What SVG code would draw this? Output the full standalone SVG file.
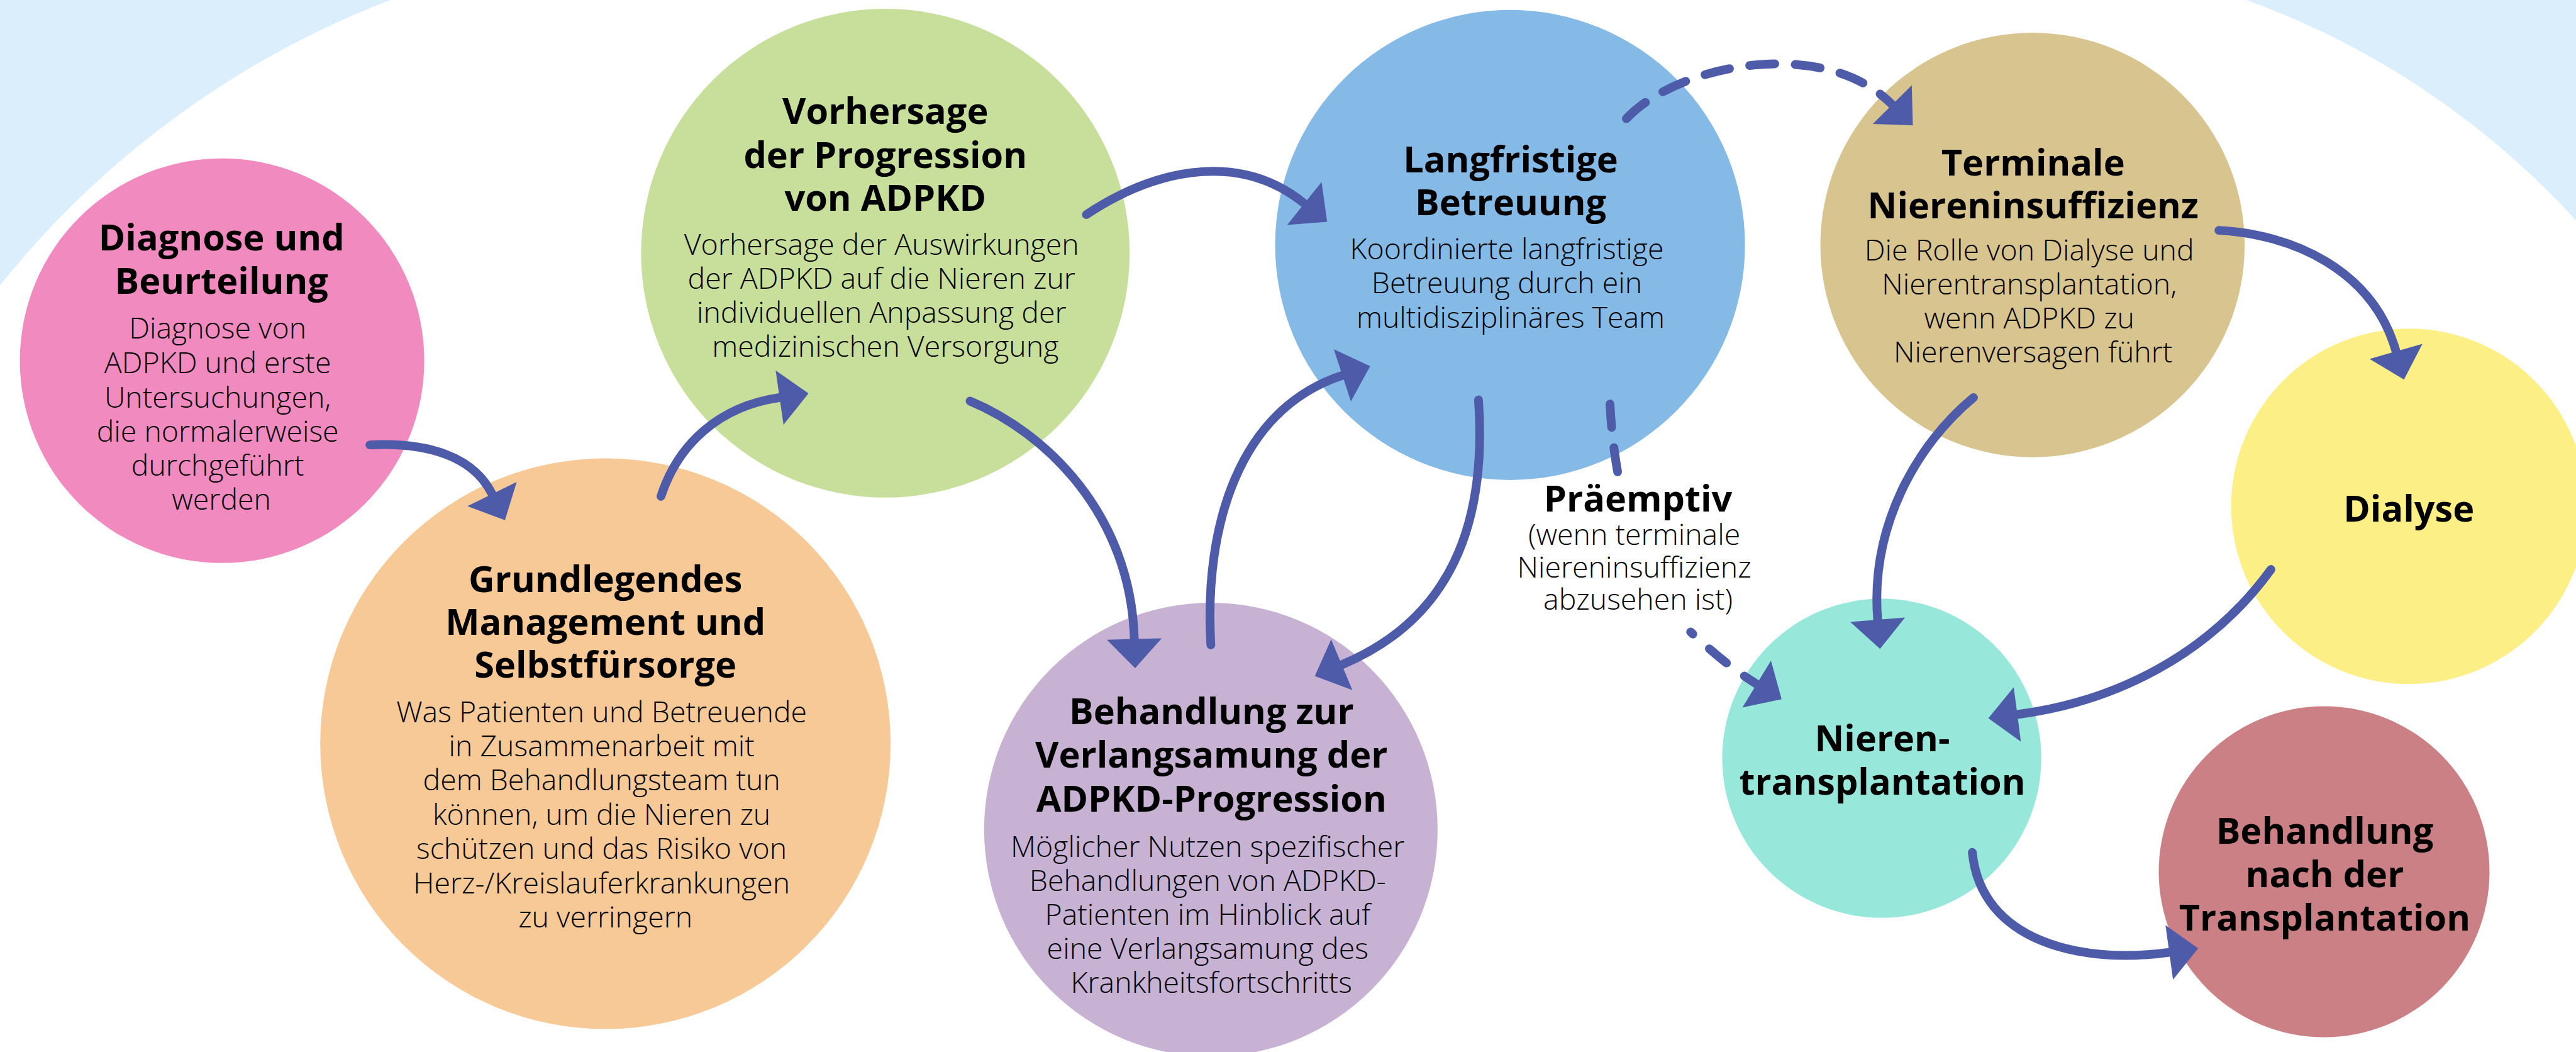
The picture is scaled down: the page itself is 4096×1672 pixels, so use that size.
<svg xmlns="http://www.w3.org/2000/svg" width="4096" height="1672" viewBox="0 0 4096 1672">
  <style>
    .title { font-family: "Open Sans", "Noto Sans", sans-serif; font-weight: 700; font-size: 62px; fill: #000; text-anchor: middle; }
    .body { font-family: "Open Sans", "Noto Sans", sans-serif; font-weight: 300; font-size: 50px; fill: #000; text-anchor: middle; }
    .link { fill: none; stroke: #4e5ba8; stroke-width: 15; stroke-linecap: round; }
    .dash { stroke-dasharray: 43 35; }
  </style>
  <defs>
    <marker id="head" markerUnits="userSpaceOnUse" markerWidth="52" markerHeight="96" refX="0" refY="47" orient="auto" overflow="visible">
      <path d="M0,0 L50,47 L0,94 Z" fill="#4e5ba8"/>
    </marker>
  </defs>
  <rect width="4096" height="1672" fill="#ffffff"/>
  <!-- drawn in 4408 x 1799 units, scaled to the window -->
  <g transform="scale(0.929219)">
    <!-- pale blue corners behind the main field -->
    <g id="backdrop" fill="#dbeefb">
      <path d="M0,0 H668 A1585,1585 0 0 0 0,488 Z"/>
      <path d="M3844,0 A1416,1416 0 0 1 4408,377 V0 Z"/>
    </g>

    <g id="diagnose">
      <circle cx="380" cy="617" r="346" fill="#f18bbf"/>
      <text class="title"><tspan x="379" y="428">Diagnose und</tspan><tspan x="379" y="503">Beurteilung</tspan></text>
      <text class="body">
        <tspan x="379" y="579">Diagnose von</tspan>
        <tspan x="379" y="638">ADPKD und erste</tspan>
        <tspan x="379" y="697">Untersuchungen,</tspan>
        <tspan x="379" y="755">die normalerweise</tspan>
        <tspan x="379" y="814">durchgeführt</tspan>
        <tspan x="379" y="872">werden</tspan>
      </text>
    </g>

    <g id="management">
      <circle cx="1036" cy="1272" r="488" fill="#f6c996"/>
      <text class="title"><tspan x="1036" y="1013">Grundlegendes</tspan><tspan x="1036" y="1086">Management und</tspan><tspan x="1036" y="1159">Selbstfürsorge</tspan></text>
      <text class="body">
        <tspan x="1036" y="1235">Was Patienten und Betreuende</tspan>
        <tspan x="1036" y="1294">in Zusammenarbeit mit</tspan>
        <tspan x="1036" y="1352">dem Behandlungsteam tun</tspan>
        <tspan x="1036" y="1411">können, um die Nieren zu</tspan>
        <tspan x="1036" y="1469">schützen und das Risiko von</tspan>
        <tspan x="1036" y="1528">Herz-/Kreislauferkrankungen</tspan>
        <tspan x="1036" y="1586">zu verringern</tspan>
      </text>
    </g>

    <g id="vorhersage">
      <circle cx="1515" cy="433" r="418" fill="#c7df9a"/>
      <text class="title"><tspan x="1515" y="212">Vorhersage</tspan><tspan x="1515" y="287">der Progression</tspan><tspan x="1515" y="361">von ADPKD</tspan></text>
      <text class="body">
        <tspan x="1515" y="436">Vorhersage der Auswirkungen</tspan>
        <tspan x="1515" y="494">der ADPKD auf die Nieren zur</tspan>
        <tspan x="1515" y="552">individuellen Anpassung der</tspan>
        <tspan x="1515" y="610">medizinischen Versorgung</tspan>
      </text>
    </g>

    <g id="verlangsamung">
      <circle cx="2072" cy="1419" r="388" fill="#c7b2d4"/>
      <text class="title"><tspan x="2073" y="1239">Behandlung zur</tspan><tspan x="2073" y="1313">Verlangsamung der</tspan><tspan x="2073" y="1388">ADPKD-Progression</tspan></text>
      <text class="body">
        <tspan x="2073" y="1466">Möglicher Nutzen spezifischer</tspan>
        <tspan x="2073" y="1524">Behandlungen von ADPKD-</tspan>
        <tspan x="2073" y="1582">Patienten im Hinblick auf</tspan>
        <tspan x="2073" y="1640">eine Verlangsamung des</tspan>
        <tspan x="2073" y="1698">Krankheitsfortschritts</tspan>
      </text>
    </g>

    <g id="betreuung">
      <circle cx="2584" cy="419" r="402" fill="#85bae7"/>
      <text class="title"><tspan x="2585" y="295">Langfristige</tspan><tspan x="2585" y="368">Betreuung</tspan></text>
      <text class="body">
        <tspan x="2585" y="443">Koordinierte langfristige</tspan>
        <tspan x="2585" y="502">Betreuung durch ein</tspan>
        <tspan x="2585" y="561">multidisziplinäres Team</tspan>
      </text>
    </g>

    <g id="terminal">
      <circle cx="3478" cy="419" r="363" fill="#d8c48f"/>
      <text class="title"><tspan x="3479" y="300">Terminale</tspan><tspan x="3479" y="373">Niereninsuffizienz</tspan></text>
      <text class="body">
        <tspan x="3479" y="445">Die Rolle von Dialyse und</tspan>
        <tspan x="3479" y="504">Nierentransplantation,</tspan>
        <tspan x="3479" y="562">wenn ADPKD zu</tspan>
        <tspan x="3479" y="620">Nierenversagen führt</tspan>
      </text>
    </g>

    <g id="dialyse">
      <circle cx="4122" cy="866" r="304" fill="#fbef86"/>
      <text class="title" x="4122" y="892">Dialyse</text>
    </g>

    <g id="transplantation">
      <circle cx="3220" cy="1297" r="273" fill="#97e8da"/>
      <text class="title"><tspan x="3221" y="1285">Nieren-</tspan><tspan x="3221" y="1359">transplantation</tspan></text>
    </g>

    <g id="nachsorge">
      <circle cx="3977" cy="1491" r="283" fill="#ca8084"/>
      <text class="title"><tspan x="3978" y="1443">Behandlung</tspan><tspan x="3978" y="1517">nach der</tspan><tspan x="3978" y="1592">Transplantation</tspan></text>
    </g>

    <g id="praeemptiv">
      <text class="title" x="2803" y="875">Präemptiv</text>
      <text class="body">
        <tspan x="2803" y="932">(wenn terminale</tspan>
        <tspan x="2803" y="988">Niereninsuffizienz</tspan>
        <tspan x="2803" y="1043">abzusehen ist)</tspan>
      </text>
    </g>

    <g id="connectors" class="connectors">
      <path class="link" marker-end="url(#head)" d="M633,761 C730,756 810,780 842,845"/>
      <path class="link" marker-end="url(#head)" d="M1131,849 C1160,760 1230,695 1334,680"/>
      <path class="link" marker-end="url(#head)" d="M1859,367 C1960,300 2110,250 2232,348"/>
      <path class="link" marker-end="url(#head)" d="M1660,686 C1790,740 1935,880 1941,1093"/>
      <path class="link" marker-end="url(#head)" d="M2072,1103 C2060,900 2120,700 2297,642"/>
      <path class="link" marker-end="url(#head)" d="M2530,684 C2545,900 2480,1060 2296,1137"/>
      <path class="link dash" marker-end="url(#head)" d="M2783,203 C2870,110 3120,60 3238,179"/>
      <path class="link" style="stroke-dasharray:40 35 60" d="M2755,691 Q2758,750 2768,807"/>
      <path class="link" style="stroke-dasharray:5 38 38 38 60" marker-end="url(#head)" d="M2893,1081 C2930,1115 2965,1145 3006,1170"/>
      <path class="link" marker-end="url(#head)" d="M3797,394 C3920,400 4060,460 4100,601"/>
      <path class="link" marker-end="url(#head)" d="M3377,680 C3280,760 3200,900 3213,1060"/>
      <path class="link" marker-end="url(#head)" d="M3886,974 C3780,1120 3620,1200 3452,1222"/>
      <path class="link" marker-end="url(#head)" d="M3375,1458 C3390,1610 3560,1650 3712,1629"/>
    </g>
  </g>
</svg>
